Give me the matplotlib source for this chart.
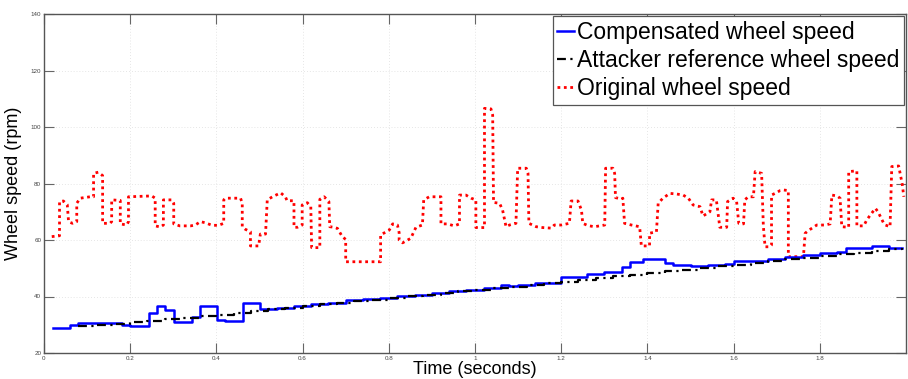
import matplotlib
matplotlib.use("Agg")
import matplotlib.pyplot as plt

plt.rcParams['font.family'] = ['Liberation Sans', 'DejaVu Sans']

# Original wheel speed (red dotted) vertices: time (s), rpm
orig_t = [0.018, 0.036, 0.036, 0.045, 0.054, 0.057, 0.066, 0.076, 0.076, 0.084,
          0.107, 0.115, 0.115, 0.126, 0.136, 0.136, 0.153, 0.157, 0.157, 0.177,
          0.177, 0.192, 0.196, 0.196, 0.250, 0.258, 0.258, 0.270, 0.277, 0.277,
          0.297, 0.301, 0.301, 0.315, 0.340, 0.351, 0.363, 0.374, 0.390, 0.405,
          0.417, 0.417, 0.421, 0.456, 0.460, 0.460, 0.467, 0.479, 0.479, 0.498,
          0.500, 0.502, 0.514, 0.518, 0.530, 0.549, 0.560, 0.564, 0.580, 0.580,
          0.588, 0.599, 0.599, 0.611, 0.619, 0.621, 0.640, 0.640, 0.650, 0.661,
          0.663, 0.673, 0.681, 0.692, 0.700, 0.700, 0.781, 0.781, 0.801, 0.809,
          0.820, 0.824, 0.824, 0.832, 0.851, 0.863, 0.878, 0.881, 0.894, 0.921,
          0.921, 0.936, 0.952, 0.964, 0.964, 0.979, 0.991, 1.002, 1.002, 1.022,
          1.022, 1.037, 1.041, 1.043, 1.057, 1.064, 1.072, 1.080, 1.095, 1.099,
          1.119, 1.123, 1.125, 1.142, 1.157, 1.177, 1.184, 1.200, 1.219, 1.223,
          1.239, 1.247, 1.250, 1.262, 1.277, 1.301, 1.303, 1.320, 1.324, 1.326,
          1.340, 1.343, 1.347, 1.363, 1.382, 1.386, 1.405, 1.405, 1.421, 1.425,
          1.436, 1.452, 1.467, 1.483, 1.495, 1.506, 1.522, 1.529, 1.545, 1.549,
          1.560, 1.568, 1.584, 1.586, 1.599, 1.607, 1.612, 1.623, 1.626, 1.634,
          1.646, 1.650, 1.665, 1.669, 1.673, 1.684, 1.688, 1.688, 1.696, 1.708,
          1.716, 1.727, 1.727, 1.739, 1.762, 1.766, 1.770, 1.778, 1.793, 1.812,
          1.824, 1.828, 1.840, 1.847, 1.851, 1.867, 1.867, 1.886, 1.886, 1.902,
          1.909, 1.917, 1.929, 1.935, 1.948, 1.952, 1.963, 1.967, 1.983, 1.991,
          1.995]
orig_v = [61.2, 61.5, 73.6, 73.8, 72.5, 66.5, 65.9, 66.5, 73.0, 74.8,
          75.3, 75.3, 83.6, 84.0, 82.8, 65.9, 65.9, 66.5, 74.2, 74.0,
          65.7, 65.3, 66.5, 75.3, 75.6, 74.8, 65.0, 64.6, 65.3, 74.2,
          74.2, 73.0, 65.7, 65.0, 65.0, 65.3, 66.5, 66.1, 65.2, 65.2,
          65.9, 74.2, 74.8, 74.8, 73.0, 64.7, 63.8, 62.9, 57.9, 57.9,
          60.0, 62.1, 62.1, 74.2, 75.3, 76.7, 75.3, 73.9, 73.9, 64.5,
          64.5, 65.3, 72.4, 73.2, 71.8, 57.3, 57.3, 74.4, 75.3, 73.6,
          64.7, 64.5, 64.1, 61.2, 60.2, 52.3, 52.3, 61.8, 63.5, 65.7,
          65.3, 62.6, 60.0, 59.0, 60.6, 64.5, 65.3, 74.2, 75.3, 75.3,
          65.7, 65.7, 65.0, 65.7, 75.9, 75.9, 74.8, 74.2, 64.4, 64.4,
          106.6, 106.4, 104.2, 73.3, 73.0, 70.6, 64.7, 65.3, 65.9, 85.4,
          85.4, 83.6, 65.9, 64.7, 64.4, 64.2, 65.3, 65.3, 65.9, 73.8,
          73.8, 70.6, 65.9, 65.1, 64.7, 65.3, 85.4, 85.4, 83.6, 75.0,
          74.5, 74.8, 65.9, 65.3, 64.7, 57.9, 57.9, 62.4, 62.9, 73.0,
          74.8, 76.5, 76.3, 75.9, 74.8, 72.4, 71.8, 68.5, 70.0, 74.2,
          74.2, 64.5, 64.5, 73.6, 74.8, 73.6, 65.9, 65.7, 74.2, 75.3,
          75.3, 84.2, 83.6, 65.0, 57.6, 57.6, 58.2, 75.9, 76.5, 77.5,
          77.7, 77.5, 54.1, 54.1, 54.1, 62.4, 62.9, 63.8, 65.3, 65.3,
          65.7, 75.9, 75.6, 74.8, 64.7, 64.5, 84.2, 84.5, 65.0, 65.0,
          67.1, 68.8, 71.2, 70.0, 66.0, 65.3, 64.7, 86.0, 86.2, 80.0,
          75.3]

# Compensated wheel speed (blue solid, stepwise)
comp_t = [0.022, 0.060, 0.080, 0.181, 0.200, 0.243, 0.262, 0.281, 0.301, 0.343,
          0.363, 0.402, 0.421, 0.462, 0.502, 0.54, 0.58, 0.62, 0.66, 0.70,
          0.74, 0.78, 0.82, 0.86, 0.90, 0.94, 0.98, 1.02, 1.06, 1.08,
          1.10, 1.14, 1.20, 1.26, 1.30, 1.34, 1.36, 1.39, 1.44, 1.46,
          1.50, 1.54, 1.58, 1.60, 1.64, 1.68, 1.72, 1.76, 1.80, 1.84,
          1.86, 1.90, 1.92, 1.96, 1.99]
comp_v = [28.7, 29.9, 30.7, 30.0, 29.6, 34.3, 36.6, 35.2, 31.1, 32.9,
          36.6, 31.7, 31.4, 37.8, 35.6, 36.0, 36.6, 37.3, 37.8, 38.6,
          39.1, 39.6, 40.2, 40.7, 41.3, 41.8, 42.4, 43.0, 44.0, 43.6,
          44.2, 44.9, 47.0, 47.8, 48.6, 50.5, 52.3, 53.3, 52.0, 51.0,
          50.8, 51.0, 51.5, 52.4, 52.6, 53.2, 54.0, 54.6, 55.4, 55.8,
          57.0, 57.0, 57.8, 57.3, 57.3]

# Attacker reference wheel speed (black dash-dot, stepwise)
ref_t = [0.08, 0.12, 0.16, 0.20, 0.24, 0.28, 0.32, 0.36, 0.40, 0.44,
         0.48, 0.52, 0.56, 0.60, 0.64, 0.68, 0.72, 0.76, 0.80, 0.84,
         0.88, 0.92, 0.96, 1.00, 1.04, 1.08, 1.12, 1.16, 1.20, 1.24,
         1.28, 1.32, 1.36, 1.40, 1.44, 1.48, 1.52, 1.56, 1.60, 1.64,
         1.68, 1.72, 1.76, 1.80, 1.84, 1.88, 1.92, 1.96, 1.99]
ref_v = [29.6, 29.9, 30.2, 30.9, 31.4, 31.9, 32.4, 33.0, 33.5, 34.1,
         34.8, 35.5, 36.0, 36.6, 37.2, 37.8, 38.4, 38.9, 39.5, 40.1,
         40.7, 41.3, 41.8, 42.4, 43.0, 43.5, 44.1, 44.7, 45.3, 45.9,
         46.5, 47.1, 47.7, 48.3, 48.9, 49.5, 50.1, 50.7, 51.3, 51.9,
         52.5, 53.1, 53.7, 54.3, 54.9, 55.5, 56.1, 56.7, 57.3]

x_ticks = [0, 0.2, 0.4, 0.6, 0.8, 1.0, 1.2, 1.4, 1.6, 1.8]
x_tick_labels = ["0", "0.2", "0.4", "0.6", "0.8", "1", "1.2", "1.4", "1.6", "1.8"]
y_ticks = [20, 40, 60, 80, 100, 120, 140]

fig = plt.figure(figsize=(9.08, 3.79), dpi=100)
ax = fig.add_axes([44 / 908, 26 / 379, 862 / 908, 339 / 379])

ax.plot(comp_t, comp_v, drawstyle='steps-post', color='#0000ff', lw=1.8,
        label='Compensated wheel speed', zorder=3)
ax.plot(ref_t, ref_v, drawstyle='steps-post', color='black', lw=1.6,
        linestyle=(0, (4, 2, 1, 2)), label='Attacker reference wheel speed', zorder=4)
ax.plot(orig_t, orig_v, color='#ff0000', lw=2.0, linestyle=(0, (1, 1.3)),
        label='Original wheel speed', zorder=2)

ax.set_xlim(0, 2)
ax.set_ylim(20, 140)
ax.set_xticks(x_ticks)
ax.set_xticklabels(x_tick_labels)
ax.set_yticks(y_ticks)
ax.tick_params(axis='both', which='both', direction='in', length=7, width=0.8,
               labelsize=4.5, labelcolor='#444444', color='#666666',
               top=True, right=True, pad=2)
ax.grid(True, linestyle=(0, (1, 2.5)), color='#dddddd', lw=0.6)
for s in ax.spines.values():
    s.set_color('#555555')
    s.set_linewidth(1.0)

ax.set_xlabel('Time (seconds)', fontsize=13, labelpad=0)
ax.set_ylabel('Wheel speed (rpm)', fontsize=13, labelpad=6)

leg = ax.legend(loc='upper right', fontsize=16.5, handlelength=0.75,
                handletextpad=0.1, borderpad=0.2, labelspacing=0.22,
                borderaxespad=0.1, fancybox=False, framealpha=1)
leg.get_frame().set_edgecolor('#555555')
leg.get_frame().set_linewidth(0.9)

fig.savefig('out.png', dpi=100)
